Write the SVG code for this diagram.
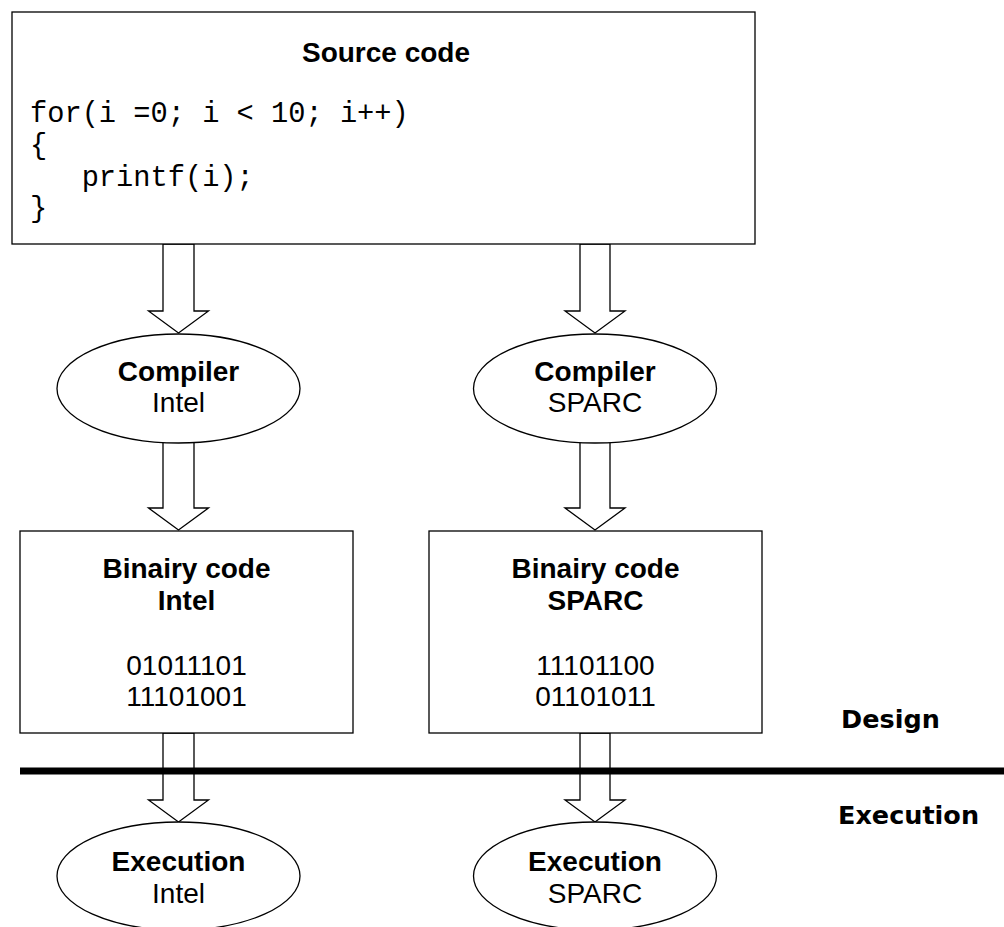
<svg xmlns="http://www.w3.org/2000/svg" width="1004" height="927" viewBox="0 0 1004 927">
<style>
.box{fill:#fff;stroke:#000;stroke-width:1.3}
.arr{fill:#fff;stroke:#000;stroke-width:1.3;stroke-linejoin:miter}
.t{font-family:"Liberation Sans",Arial,sans-serif;font-size:28px;fill:#000;text-anchor:middle}
.b{font-weight:bold}
.code{font-family:"Liberation Mono","Courier New",monospace;font-size:28.7px;fill:#000;white-space:pre}
.lbl{font-family:"DejaVu Sans",Verdana,sans-serif;font-weight:bold;font-size:25.5px;fill:#000}
</style>
<rect width="1004" height="927" fill="#fff"/>
<g id="connectors">
<polygon class="arr" points="163,244 194,244 194,311 208.5,311 178.5,333 148.5,311 163,311"/>
<polygon class="arr" points="580,244 610,244 610,311 625,311 595,333 565,311 580,311"/>
<polygon class="arr" points="163,442 194,442 194,508 208.5,508 178.5,530 148.5,508 163,508"/>
<polygon class="arr" points="580,442 610,442 610,508 625,508 595,530 565,508 580,508"/>
<polygon class="arr" points="163,733 194,733 194,800 208.5,800 178.5,822 148.5,800 163,800"/>
<polygon class="arr" points="580,733 610,733 610,800 625,800 595,822 565,800 580,800"/>
</g>
<g id="source">
<rect class="box" x="12" y="12" width="743" height="232"/>
<text class="t b" x="386" y="62">Source code</text>
<text class="code" x="30" y="122">for(i =0; i &lt; 10; i++)</text>
<text class="code" x="30" y="154">{</text>
<text class="code" x="30" y="186">   printf(i);</text>
<text class="code" x="30" y="217">}</text>
</g>
<g id="compiler-intel">
<ellipse class="box" cx="178.5" cy="388.5" rx="121.5" ry="54.5"/>
<text class="t b" x="178.5" y="381">Compiler</text>
<text class="t" x="178.5" y="412">Intel</text>
</g>
<g id="compiler-sparc">
<ellipse class="box" cx="595" cy="388.5" rx="121.5" ry="54.5"/>
<text class="t b" x="595" y="381">Compiler</text>
<text class="t" x="595" y="412">SPARC</text>
</g>
<g id="binary-intel">
<rect class="box" x="20" y="531" width="333" height="202"/>
<text class="t b" x="186.5" y="578">Binairy code</text>
<text class="t b" x="186.5" y="610">Intel</text>
<text class="t" x="186.5" y="675">01011101</text>
<text class="t" x="186.5" y="706">11101001</text>
</g>
<g id="binary-sparc">
<rect class="box" x="429" y="531" width="333" height="202"/>
<text class="t b" x="595.5" y="578">Binairy code</text>
<text class="t b" x="595.5" y="610">SPARC</text>
<text class="t" x="595.5" y="675">11101100</text>
<text class="t" x="595.5" y="706">01101011</text>
</g>
<g id="divider">
<line x1="20" y1="771" x2="1004" y2="771" stroke="#000" stroke-width="7"/>
<text class="lbl" x="841" y="728">Design</text>
<text class="lbl" x="838" y="824">Execution</text>
</g>
<g id="exec-intel">
<ellipse class="box" cx="178.5" cy="876" rx="121.5" ry="54"/>
<text class="t b" x="178.5" y="871">Execution</text>
<text class="t" x="178.5" y="903">Intel</text>
</g>
<g id="exec-sparc">
<ellipse class="box" cx="595" cy="876" rx="121.5" ry="54"/>
<text class="t b" x="595" y="871">Execution</text>
<text class="t" x="595" y="903">SPARC</text>
</g>
</svg>
